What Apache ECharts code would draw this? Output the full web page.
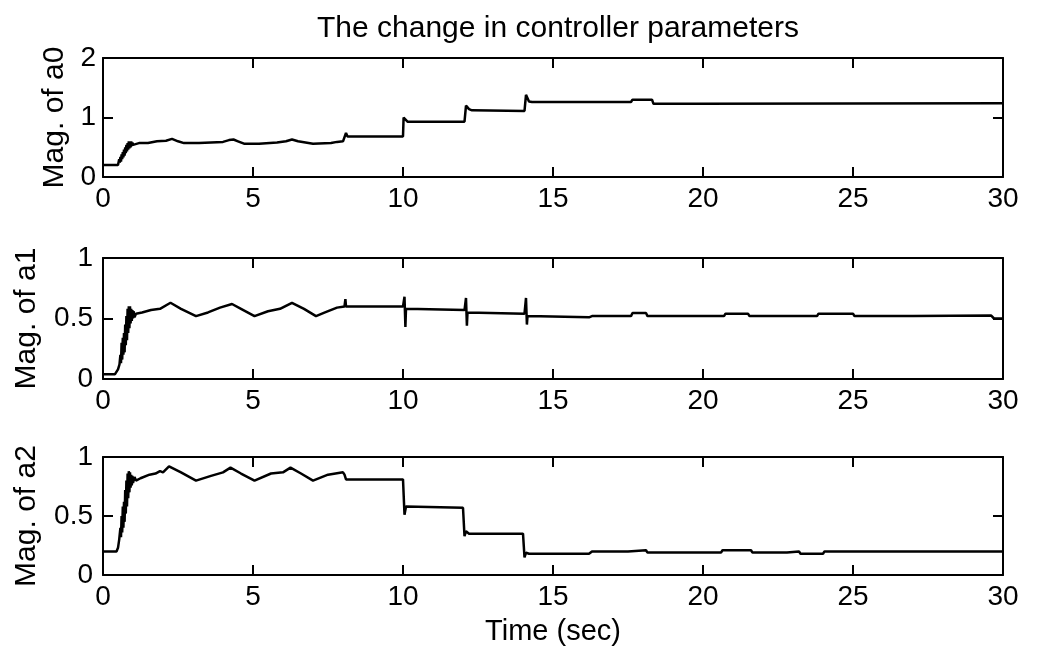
<!DOCTYPE html>
<html>
<head>
<meta charset="utf-8">
<script src="https://cdn.jsdelivr.net/npm/echarts@6/dist/echarts.min.js"></script>
<style>
html,body{margin:0;padding:0;background:#fff;}
#c{width:1037px;height:647px;}
</style>
</head>
<body>
<div id="c"></div>
<script>
// ---- data ----
const titleText = "The change in controller parameters";
const xName = "Time (sec)";
const yNames = ["Mag. of a0", "Mag. of a1", "Mag. of a2"];
const xTicks = [0, 30, 5];            // min, max, interval
const yRanges = [[0, 2, 1], [0, 1, 0.5], [0, 1, 0.5]];

const a0Time = [0,0.5,0.52,0.54,0.56,0.58,0.6,0.62,0.64,0.66,0.68,0.7,0.72,0.74,0.76,0.78,0.8,0.82,0.84,0.86,0.88,0.9,0.92,0.94,0.96,0.98,1.0,
  1.2,1.5,1.8,2.1,2.3,2.5,2.7,3.2,3.6,4.0,4.2,4.35,4.5,4.7,5.2,5.8,6.1,6.3,6.5,7.0,7.6,7.8,8.0,8.05,8.1,8.15,10.0,10.02,10.15,12.05,12.1,12.2,12.3,14.05,14.1,14.2,14.3,17.6,17.65,18.3,18.35,19.8,19.85,30];
const a0Vals = [0.2,0.2,0.2,0.3,0.24,0.34,0.26,0.38,0.3,0.42,0.33,0.46,0.36,0.5,0.4,0.54,0.43,0.57,0.46,0.6,0.48,0.6,0.5,0.6,0.52,0.58,0.54,
  0.57,0.57,0.6,0.61,0.64,0.6,0.57,0.57,0.58,0.59,0.62,0.63,0.6,0.56,0.56,0.58,0.6,0.63,0.6,0.56,0.57,0.59,0.6,0.6,0.74,0.68,0.68,1.0,0.93,0.93,1.2,1.14,1.12,1.11,1.38,1.27,1.26,1.26,1.3,1.3,1.23,1.23,1.26,1.24];

const a1Time = [0,0.4,0.45,0.5,0.55,0.58,0.6,0.62,0.64,0.66,0.68,0.7,0.72,0.74,0.76,0.78,0.8,0.82,0.84,0.86,0.88,0.9,0.92,0.94,0.96,0.98,1.0,1.02,1.05,1.1,
  1.3,1.6,1.9,2.25,2.6,3.1,3.5,3.9,4.3,4.6,5.05,5.5,5.9,6.3,6.7,7.1,7.4,7.8,8.05,8.08,8.1,8.12,10.0,10.05,10.08,10.1,10.15,12.05,12.1,12.13,12.15,12.2,14.05,14.1,14.13,14.15,14.2,16.2,16.3,17.6,17.65,18.1,18.15,20.7,20.75,21.5,21.55,23.8,23.85,25.0,25.05,27.0,27.05,29.6,29.7,30];
const a1Vals = [0.04,0.04,0.05,0.08,0.12,0.2,0.13,0.3,0.16,0.34,0.2,0.38,0.22,0.45,0.28,0.52,0.32,0.58,0.38,0.6,0.42,0.6,0.46,0.58,0.48,0.57,0.5,0.56,0.51,0.54,
  0.55,0.57,0.58,0.63,0.58,0.52,0.55,0.59,0.62,0.58,0.52,0.56,0.58,0.63,0.58,0.52,0.55,0.59,0.6,0.66,0.6,0.6,0.6,0.68,0.43,0.58,0.57,0.57,0.67,0.44,0.55,0.54,0.54,0.67,0.45,0.52,0.51,0.51,0.52,0.52,0.545,0.545,0.52,0.52,0.54,0.54,0.52,0.52,0.54,0.54,0.52,0.52,0.525,0.525,0.5,0.5];

const a2Time = [0,0.45,0.5,0.54,0.58,0.6,0.62,0.64,0.66,0.68,0.7,0.72,0.74,0.76,0.78,0.8,0.82,0.84,0.86,0.88,0.9,0.92,0.94,0.96,0.98,1.0,1.05,1.1,
  1.25,1.55,1.75,1.9,2.0,2.2,2.6,3.1,3.6,4.0,4.25,4.6,5.05,5.6,6.0,6.25,6.6,7.0,7.5,8.0,8.05,8.1,10.0,10.05,10.1,10.15,12.0,12.05,12.1,12.2,14.0,14.05,14.1,14.2,16.2,16.3,17.5,17.55,18.1,18.15,20.6,20.65,21.6,21.65,22.8,22.85,23.2,23.25,24.0,24.05,30];
const a2Vals = [0.2,0.2,0.23,0.3,0.4,0.32,0.5,0.36,0.58,0.4,0.62,0.45,0.72,0.52,0.8,0.58,0.86,0.65,0.88,0.7,0.87,0.74,0.85,0.76,0.84,0.78,0.83,0.8,
  0.82,0.85,0.86,0.88,0.87,0.92,0.87,0.8,0.84,0.87,0.91,0.86,0.8,0.86,0.87,0.91,0.86,0.8,0.85,0.87,0.85,0.81,0.81,0.51,0.58,0.57,0.57,0.33,0.37,0.35,0.35,0.15,0.19,0.18,0.18,0.2,0.2,0.21,0.21,0.19,0.19,0.21,0.21,0.19,0.19,0.2,0.2,0.18,0.18,0.2,0.2];

// ---- layout ----
const FONT = "'Liberation Sans', Arial, sans-serif";
const grids = [
  {left: 103, right: 34, top: 58, height: 119},
  {left: 103, right: 34, top: 258, height: 121},
  {left: 103, right: 34, top: 457, height: 119}
];
const yLabelMargin = [7, 10, 10];
const yNameGap = [33, 61, 61];
const series = [[a0Time, a0Vals], [a1Time, a1Vals], [a2Time, a2Vals]];

function tick() { return {show: true, inside: true, length: 10, lineStyle: {color: '#000', width: 2}}; }
function line() { return {show: true, onZero: false, lineStyle: {color: '#000', width: 2}}; }
const option = {
  animation: false,
  backgroundColor: '#fff',
  title: {text: titleText, left: 553, textAlign: 'center', top: 9,
    textStyle: {fontFamily: FONT, fontSize: 30, fontWeight: 'normal', color: '#000'}},
  grid: grids.map(g => Object.assign({show: false}, g)),
  xAxis: [],
  yAxis: [],
  series: []
};
for (let i = 0; i < 3; i++) {
  option.xAxis.push({
    type: 'value', gridIndex: i, position: 'bottom', min: xTicks[0], max: xTicks[1], interval: xTicks[2],
    axisLine: line(), splitLine: {show: false}, axisTick: tick(),
    axisLabel: {margin: 8, fontFamily: FONT, fontSize: 28, color: '#000'},
    name: i === 2 ? xName : '', nameLocation: 'middle', nameGap: 42,
    nameTextStyle: {fontFamily: FONT, fontSize: 29, color: '#000'}
  });
  option.xAxis.push({
    type: 'value', gridIndex: i, position: 'top', min: xTicks[0], max: xTicks[1], interval: xTicks[2],
    axisLine: line(), splitLine: {show: false}, axisTick: tick(), axisLabel: {show: false}
  });
  option.yAxis.push({
    type: 'value', gridIndex: i, position: 'left', min: yRanges[i][0], max: yRanges[i][1], interval: yRanges[i][2],
    axisLine: line(), splitLine: {show: false}, axisTick: tick(),
    axisLabel: {margin: yLabelMargin[i], fontFamily: FONT, fontSize: 28, color: '#000'},
    name: yNames[i], nameLocation: 'middle', nameGap: yNameGap[i],
    nameTextStyle: {fontFamily: FONT, fontSize: 30, color: '#000'}
  });
  option.yAxis.push({
    type: 'value', gridIndex: i, position: 'right', min: yRanges[i][0], max: yRanges[i][1], interval: yRanges[i][2],
    axisLine: line(), splitLine: {show: false}, axisTick: tick(), axisLabel: {show: false}
  });
  const t = series[i][0], v = series[i][1];
  option.series.push({
    type: 'line', xAxisIndex: 2 * i, yAxisIndex: 2 * i,
    data: t.map((x, k) => [x, v[k]]),
    showSymbol: false, symbol: 'none',
    lineStyle: {color: '#000', width: 2.5}
  });
}
const chart = echarts.init(document.getElementById('c'), null, {renderer: 'canvas'});
chart.setOption(option);
</script>
</body>
</html>
